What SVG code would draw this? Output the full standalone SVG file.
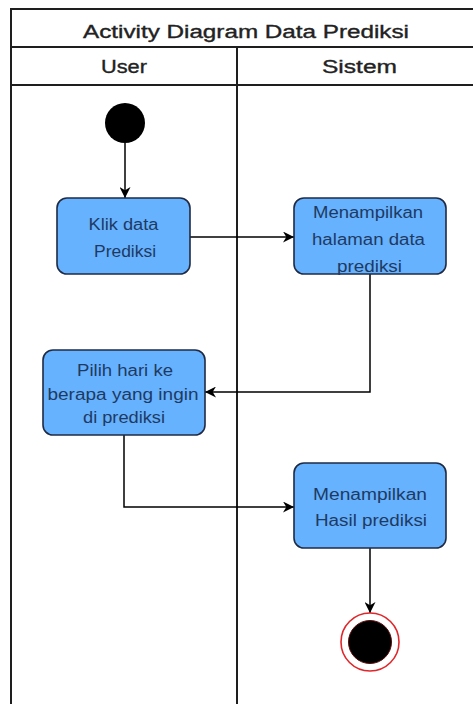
<svg xmlns="http://www.w3.org/2000/svg" width="473" height="704" viewBox="0 0 473 704">
  <defs>
    <marker id="arrow" viewBox="0 0 11 11" refX="11" refY="5.5" markerWidth="11" markerHeight="11" markerUnits="userSpaceOnUse" orient="auto">
      <path d="M0,0 L11,5.5 L0,11 L3.3,5.5 z" fill="#000"/>
    </marker>
    <style>
      .lane { fill: none; stroke: #1e1e1e; stroke-width: 2; }
      .head { font-family: "Liberation Sans", Arial, sans-serif; font-size: 18px; fill: #222; stroke: #222; stroke-width: 0.35; text-anchor: middle; }
      .act { fill: #66b2ff; stroke: #1f2b45; stroke-width: 1.6; }
      .label { font-family: "Liberation Sans", Arial, sans-serif; font-size: 16px; fill: #1f3a62; text-anchor: middle; }
      .edge { fill: none; stroke: #000; stroke-width: 1.5; marker-end: url(#arrow); }
    </style>
  </defs>

  <rect width="473" height="704" fill="#fff"/>

  <!-- swimlane frame -->
  <g id="swimlane">
    <rect class="lane" x="11" y="9" width="471" height="710"/>
    <line class="lane" x1="11" y1="47" x2="482" y2="47"/>
    <line class="lane" x1="11" y1="85" x2="482" y2="85"/>
    <line class="lane" x1="237" y1="47" x2="237" y2="710"/>
    <text class="head" x="246" y="38" textLength="326" lengthAdjust="spacingAndGlyphs">Activity Diagram Data Prediksi</text>
    <text class="head" x="124" y="73" textLength="46" lengthAdjust="spacingAndGlyphs">User</text>
    <text class="head" x="359.5" y="73" textLength="75" lengthAdjust="spacingAndGlyphs">Sistem</text>
  </g>

  <!-- connectors -->
  <g id="connectors">
    <line class="edge" x1="125" y1="143" x2="125" y2="198"/>
    <line class="edge" x1="190" y1="237" x2="294" y2="237"/>
    <polyline class="edge" points="370,274 370,392 205,392"/>
    <polyline class="edge" points="124,435 124,507 294,507"/>
    <line class="edge" x1="370" y1="548" x2="370" y2="613"/>
  </g>

  <g id="start">
    <circle cx="125" cy="123" r="20" fill="#000"/>
  </g>

  <g id="klik-data-prediksi">
    <rect class="act" x="57" y="198" width="133" height="76" rx="10"/>
    <text class="label" x="123.5" y="230" textLength="70" lengthAdjust="spacingAndGlyphs">Klik data</text>
    <text class="label" x="125" y="257" textLength="62" lengthAdjust="spacingAndGlyphs">Prediksi</text>
  </g>

  <g id="menampilkan-halaman">
    <rect class="act" x="294" y="198" width="152" height="76" rx="10"/>
    <text class="label" x="368" y="218" textLength="110" lengthAdjust="spacingAndGlyphs">Menampilkan</text>
    <text class="label" x="368.5" y="245" textLength="113" lengthAdjust="spacingAndGlyphs">halaman data</text>
    <text class="label" x="369.5" y="272" textLength="65" lengthAdjust="spacingAndGlyphs">prediksi</text>
  </g>

  <g id="pilih-hari">
    <rect class="act" x="43" y="350" width="162" height="85" rx="10"/>
    <text class="label" x="125" y="376" textLength="96" lengthAdjust="spacingAndGlyphs">Pilih hari ke</text>
    <text class="label" x="123" y="400" textLength="151" lengthAdjust="spacingAndGlyphs">berapa yang ingin</text>
    <text class="label" x="124" y="423" textLength="82" lengthAdjust="spacingAndGlyphs">di prediksi</text>
  </g>

  <g id="menampilkan-hasil">
    <rect class="act" x="294" y="463" width="152" height="85" rx="10"/>
    <text class="label" x="370" y="500" textLength="114" lengthAdjust="spacingAndGlyphs">Menampilkan</text>
    <text class="label" x="371" y="526" textLength="112" lengthAdjust="spacingAndGlyphs">Hasil prediksi</text>
  </g>

  <g id="end">
    <circle cx="370" cy="642" r="29" fill="#fff" stroke="#e0262a" stroke-width="1.6"/>
    <circle cx="370" cy="642" r="21.5" fill="#000" stroke="#5a0a0a" stroke-width="1"/>
  </g>
</svg>
